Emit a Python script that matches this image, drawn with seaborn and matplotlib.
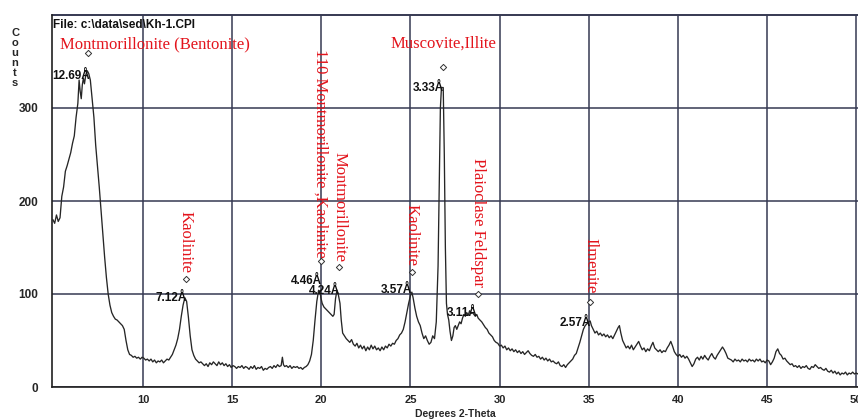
import matplotlib
matplotlib.use("Agg")
import matplotlib.pyplot as plt
import seaborn as sns
import pandas as pd
from matplotlib.ticker import MultipleLocator

# ---------------- data ----------------
two_theta = [
    4.95, 5.05, 5.15, 5.25, 5.35, 5.45, 5.55, 5.65, 5.75, 5.85, 5.95, 6.05, 6.15, 6.25, 6.35,
    6.42, 6.48, 6.54, 6.60, 6.66, 6.72, 6.80, 6.88, 6.96, 7.05, 7.15, 7.25, 7.35, 7.45, 7.55,
    7.65, 7.75, 7.85, 7.95, 8.05, 8.15, 8.25, 8.35, 8.45, 8.55, 8.65, 8.75, 8.85, 8.95, 9.05,
    9.15, 9.25, 9.35, 9.45, 9.55, 9.65, 9.75, 9.85, 9.95, 10.05, 10.15, 10.25, 10.35, 10.45,
    10.55, 10.65, 10.75, 10.85, 10.95, 11.05, 11.15, 11.25, 11.35, 11.45, 11.55, 11.65, 11.75,
    11.85, 11.95, 12.05, 12.15, 12.25, 12.35, 12.45, 12.55, 12.65, 12.75, 12.85, 12.95, 13.05,
    13.15, 13.25, 13.35, 13.45, 13.55, 13.65, 13.75, 13.85, 13.95, 14.05, 14.15, 14.25, 14.35,
    14.45, 14.55, 14.65, 14.75, 14.85, 14.95, 15.05, 15.15, 15.25, 15.35, 15.45, 15.55, 15.65,
    15.75, 15.85, 15.95, 16.05, 16.15, 16.25, 16.35, 16.45, 16.55, 16.65, 16.75, 16.85, 16.95,
    17.05, 17.15, 17.25, 17.35, 17.45, 17.55, 17.65, 17.75, 17.82, 17.88, 17.95, 18.05, 18.15,
    18.25, 18.35, 18.45, 18.55, 18.65, 18.75, 18.85, 18.95, 19.05, 19.15, 19.25, 19.35, 19.45,
    19.55, 19.65, 19.75, 19.85, 19.92, 19.98, 20.05, 20.15, 20.25, 20.35, 20.45, 20.55, 20.65,
    20.72, 20.80, 20.88, 20.95, 21.05, 21.12, 21.20, 21.30, 21.40, 21.50, 21.60, 21.70, 21.80,
    21.90, 22.00, 22.10, 22.20, 22.30, 22.40, 22.50, 22.60, 22.70, 22.80, 22.90, 23.00, 23.10,
    23.20, 23.30, 23.40, 23.50, 23.60, 23.70, 23.80, 23.90, 24.00, 24.10, 24.20, 24.30, 24.40,
    24.50, 24.60, 24.70, 24.80, 24.90, 25.00, 25.08, 25.15, 25.25, 25.35, 25.45, 25.55, 25.65,
    25.75, 25.85, 25.95, 26.05, 26.15, 26.25, 26.35, 26.45, 26.55, 26.62, 26.68, 26.74, 26.84,
    26.90, 26.96, 27.02, 27.08, 27.15, 27.22, 27.30, 27.38, 27.45, 27.52, 27.60, 27.68, 27.76,
    27.84, 27.92, 28.00, 28.08, 28.16, 28.24, 28.32, 28.40, 28.48, 28.56, 28.64, 28.72, 28.80,
    28.90, 29.00, 29.10, 29.20, 29.30, 29.40, 29.50, 29.60, 29.70, 29.80, 29.90, 30.00, 30.10,
    30.20, 30.30, 30.40, 30.50, 30.60, 30.70, 30.80, 30.90, 31.00, 31.10, 31.20, 31.30, 31.40,
    31.50, 31.60, 31.70, 31.80, 31.90, 32.00, 32.10, 32.20, 32.30, 32.40, 32.50, 32.60, 32.70,
    32.80, 32.90, 33.00, 33.10, 33.20, 33.30, 33.40, 33.50, 33.60, 33.70, 33.80, 33.90, 34.00,
    34.10, 34.20, 34.30, 34.40, 34.50, 34.60, 34.70, 34.80, 34.90, 35.00, 35.08, 35.15, 35.25,
    35.35, 35.45, 35.55, 35.65, 35.75, 35.85, 35.95, 36.05, 36.15, 36.25, 36.35, 36.45, 36.55,
    36.65, 36.72, 36.80, 36.90, 37.00, 37.10, 37.20, 37.30, 37.40, 37.50, 37.60, 37.70, 37.80,
    37.90, 38.00, 38.10, 38.20, 38.30, 38.40, 38.50, 38.60, 38.70, 38.80, 38.90, 39.00, 39.10,
    39.20, 39.30, 39.40, 39.50, 39.60, 39.70, 39.80, 39.90, 40.00, 40.10, 40.20, 40.30, 40.40,
    40.50, 40.60, 40.70, 40.80, 40.90, 41.00, 41.10, 41.20, 41.30, 41.40, 41.50, 41.60, 41.70,
    41.80, 41.90, 42.00, 42.10, 42.20, 42.30, 42.40, 42.50, 42.60, 42.70, 42.80, 42.90, 43.00,
    43.10, 43.20, 43.30, 43.40, 43.50, 43.60, 43.70, 43.80, 43.90, 44.00, 44.10, 44.20, 44.30,
    44.40, 44.50, 44.60, 44.70, 44.80, 44.90, 45.00, 45.10, 45.20, 45.30, 45.40, 45.50, 45.60,
    45.70, 45.80, 45.90, 46.00, 46.10, 46.20, 46.30, 46.40, 46.50, 46.60, 46.70, 46.80, 46.90,
    47.00, 47.10, 47.20, 47.30, 47.40, 47.50, 47.60, 47.70, 47.80, 47.90, 48.00, 48.10, 48.20,
    48.30, 48.40, 48.50, 48.60, 48.70, 48.80, 48.90, 49.00, 49.10, 49.20, 49.30, 49.40, 49.50,
    49.60, 49.70, 49.80, 49.90, 50.00, 50.10,
]
counts = [
    180, 176, 185, 178, 182, 205, 215, 232, 238, 245, 252, 262, 270, 290, 305,
    330, 318, 310, 325, 332, 326, 336, 340, 337, 330, 310, 290, 260, 238, 215,
    190, 165, 140, 118, 100, 88, 80, 76, 73, 72, 70, 68, 66, 62, 50,
    40, 35, 34, 32, 33, 31, 32, 30, 32, 31, 29, 30, 28, 30,
    27, 29, 26, 28, 27, 29, 26, 28, 30, 29, 32, 35, 40,
    45, 52, 62, 76, 88, 96, 92, 75, 55, 40, 34, 30, 28,
    26, 27, 25, 23, 25, 22, 26, 24, 27, 25, 23, 27, 24,
    26, 23, 25, 22, 24, 21, 23, 22, 20, 22, 21, 23, 20,
    22, 21, 19, 22, 20, 23, 19, 21, 20, 22, 18, 20, 19,
    21, 22, 20, 23, 21, 24, 22, 23, 32, 24, 22, 23, 21,
    23, 20, 22, 21, 22, 20, 21, 19, 21, 22, 24, 28, 35,
    50, 72, 92, 104, 103, 96, 90, 86, 84, 82, 80, 78, 76,
    78, 95, 104, 100, 90, 72, 58, 55, 52, 50, 48, 51, 46,
    44, 47, 42, 45, 41, 44, 39, 43, 40, 45, 41, 44, 40,
    42, 39, 43, 40, 44, 42, 46, 44, 47, 46, 50, 52, 56,
    58, 62, 70, 80, 90, 98, 102, 96, 85, 76, 70, 66, 58,
    52, 55, 50, 46, 48, 55, 52, 70, 130, 220, 300, 322, 322,
    250, 150, 90, 78, 72, 60, 50, 55, 64, 66, 62, 66, 70,
    68, 74, 78, 76, 80, 77, 82, 79, 80, 78, 76, 78, 74,
    72, 70, 67, 64, 62, 58, 56, 54, 50, 48, 47, 44, 45,
    42, 44, 40, 42, 39, 41, 38, 40, 37, 39, 36, 38, 35,
    37, 39, 36, 34, 33, 35, 32, 33, 30, 32, 29, 31, 28,
    30, 27, 28, 26, 25, 27, 23, 22, 24, 21, 24, 26, 28,
    30, 34, 36, 42, 48, 55, 62, 66, 68, 70, 71, 66, 62,
    58, 60, 56, 58, 55, 57, 54, 56, 53, 55, 52, 56, 60,
    64, 66, 58, 50, 46, 42, 44, 41, 45, 40, 43, 46, 49,
    44, 40, 42, 38, 41, 39, 44, 48, 42, 40, 38, 40, 37,
    39, 38, 42, 45, 49, 44, 38, 35, 33, 35, 32, 34, 31,
    33, 30, 26, 22, 25, 30, 32, 29, 33, 30, 34, 31, 29,
    33, 36, 32, 30, 34, 37, 40, 43, 40, 36, 31, 30, 29,
    27, 30, 28, 29, 27, 30, 28, 29, 27, 30, 28, 29, 27,
    30, 28, 30, 27, 28, 26, 29, 28, 24, 27, 31, 38, 41,
    36, 34, 30, 31, 28, 26, 24, 25, 22, 23, 21, 23, 20,
    22, 21, 23, 20, 19, 22, 21, 24, 22, 20, 21, 19, 18,
    20, 17, 16, 18, 15, 17, 14, 16, 13, 15, 14, 16, 13,
    15, 14, 16, 14, 15, 14,
]

# d-spacing peak labels
peak_labels = ["12.69Å", "7.12Å", "4.46Å", "4.24Å", "3.57Å", "3.33Å", "3.11Å", "2.57Å"]
peak_label_x = [7.03, 12.47, 20.04, 21.05, 25.09, 26.88, 28.79, 35.13]
peak_label_y = [334, 96, 114, 103, 104, 322, 80, 69]

# phase identification labels (horizontal)
phase_h_names = ["Montmorillonite (Bentonite)", "Muscovite,Illite"]
phase_h_x = [5.35, 26.88]
phase_h_y = [368, 369]
phase_h_mark_x = [6.93, 26.81]
phase_h_mark_y = [359, 344]

# phase identification labels (vertical)
phase_v_names = ["Kaolinite", "110 Montmorillonite ,Kaolinite", "Montmorillonite",
                 "Kaolinite", "Plaioclase Feldspar", "Ilmenite"]
phase_v_x = [12.41, 19.96, 21.0, 25.07, 28.8, 35.07]
phase_v_y = [123, 139, 134, 130, 107, 101]
phase_v_mark_y = [116, 135, 129, 124, 100, 91]

x_ticks = [10, 15, 20, 25, 30, 35, 40, 45, 50]
y_ticks = [0, 100, 200, 300]

# ---------------- figure ----------------
sns.set_style("white")
plt.rcParams["font.family"] = ["Liberation Sans", "DejaVu Sans"]

fig = plt.figure(figsize=(8.58, 4.19), dpi=100)
ax = fig.add_axes([52 / 858, 32 / 419, 806 / 858, 372 / 419])

df = pd.DataFrame({"two_theta": two_theta, "counts": counts})
sns.lineplot(data=df, x="two_theta", y="counts", sort=False, estimator=None,
             color="#262626", linewidth=0.95, ax=ax)

ax.set_xlim(4.9, 50.1)
ax.set_ylim(0, 400)

grid_c = "#363952"
ax.set_xticks(x_ticks)
ax.set_yticks(y_ticks)
ax.xaxis.set_minor_locator(MultipleLocator(0.5))
ax.yaxis.set_minor_locator(MultipleLocator(10))
ax.grid(True, which="major", color=grid_c, linewidth=1.1)
ax.set_axisbelow(True)
ax.axhline(400, color=grid_c, linewidth=1.4, clip_on=False)

for side in ["top", "right"]:
    ax.spines[side].set_visible(False)
for side in ["left", "bottom"]:
    ax.spines[side].set_color("#202020")
    ax.spines[side].set_linewidth(1.2)

ax.tick_params(axis="both", which="both", direction="out", color="#303030",
               labelsize=8.5, width=0.8)
ax.tick_params(axis="x", which="major", length=4, pad=2, labelsize=8)
ax.tick_params(axis="y", which="major", length=4, pad=6)
ax.tick_params(axis="both", which="minor", length=3)
for lab in ax.get_xticklabels() + ax.get_yticklabels():
    lab.set_fontweight("bold")

ax.set_xlabel("")
ax.set_ylabel("")
fig.text(455 / 858, 1 - 413.5 / 419, "Degrees 2-Theta", ha="center", va="center",
         fontsize=7.5, fontweight="bold")
fig.text(15 / 858, 1 - 58 / 419, "\n".join("Counts"), ha="center", va="center",
         fontsize=8, fontweight="bold", linespacing=1.0)

ax.text(4.97, 389, r"File: c:\data\sed\Kh-1.CPI", fontsize=8.5, fontweight="bold",
        ha="left", va="center", color="#111111")

red = "#e3141c"
serif = ["Liberation Serif", "DejaVu Serif"]
for name, x, y in zip(phase_h_names, phase_h_x, phase_h_y):
    ax.text(x, y, name, color=red, fontsize=12, family=serif,
            ha="left" if x < 10 else "center", va="center")
for name, x, y in zip(phase_v_names, phase_v_x, phase_v_y):
    ax.text(x, y, name, color=red, fontsize=12, family=serif, rotation=-90,
            ha="center", va="bottom")

mark_x = phase_h_mark_x + phase_v_x
mark_y = phase_h_mark_y + phase_v_mark_y
ax.scatter(mark_x, mark_y, marker="D", s=10, facecolor="white", edgecolor="#333333",
           linewidth=0.7, zorder=5)

for lab, x, y in zip(peak_labels, peak_label_x, peak_label_y):
    ax.text(x, y, lab, fontsize=8.5, fontweight="bold", ha="right", va="center",
            color="#111111", clip_on=False)

fig.savefig("out.png", dpi=100, facecolor="white")
